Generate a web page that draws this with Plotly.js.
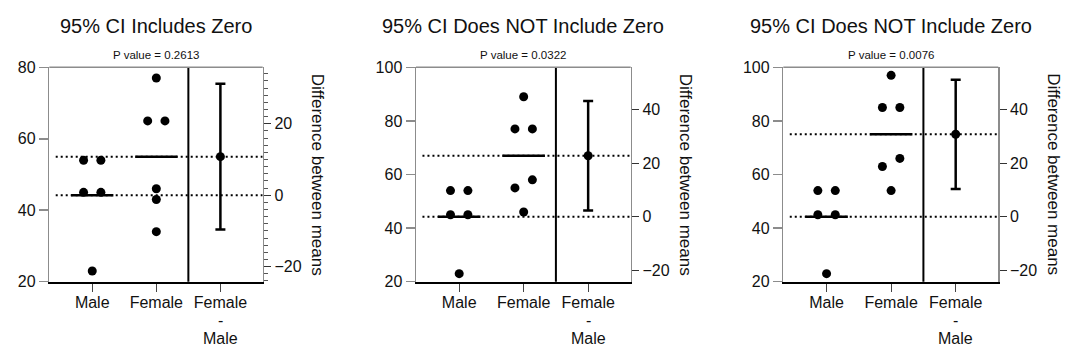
<!DOCTYPE html>
<html>
<head>
<meta charset="utf-8">
<script src="https://cdn.plot.ly/plotly-3.0.1.min.js"></script>
<style>html,body{margin:0;padding:0;background:#fff;}#chart{width:1080px;height:360px;}</style>
</head>
<body>
<div id="chart"></div>
<script>
// ---- data ----
const categories = ['Male', 'Female', 'Female<br>-<br>Male'];
const panelTitles = ['95% CI Includes Zero', '95% CI Does NOT Include Zero', '95% CI Does NOT Include Zero'];
const pValues = ['0.2613', '0.0322', '0.0076'];
const male1 = [54, 54, 45, 45, 23];
const female1 = [77, 65, 65, 46, 43, 34];
const male2 = [54, 54, 45, 45, 23];
const female2 = [89, 77, 77, 58, 55, 46];
const male3 = [54, 54, 45, 45, 23];
const female3 = [97, 85, 85, 66, 63, 54];
const ciLow = [-9.6, 2.4, 10.4];
const ciHigh = [31.2, 43.2, 51.2];
const rightAxisTitle = 'Difference between means';

// ---- layout config ----
const W = 1080, H = 360;
const leftRanges = [[20, 80], [20, 100], [20, 100]];
const frameX = [[49.3, 262.7], [416, 630.7], [783.3, 998.3]];
const frameTop = 67.3, frameBottom = 281.7;
const xRange = [-0.67, 2.66];
const labelFirstLineY = 302, labelLineGap = 18;
const panels = [[male1, female1], [male2, female2], [male3, female3]];

const mean = a => a.reduce((s, v) => s + v, 0) / a.length;

function swarm(vals, center, pxPerUnit) {
  const idx = vals.map((v, i) => i).sort((a, b) => vals[a] - vals[b]);
  const clusters = [];
  let cur = [];
  idx.forEach(i => {
    if (cur.length && (vals[i] - vals[cur[cur.length - 1]]) * pxPerUnit >= 9) {
      clusters.push(cur); cur = [];
    }
    cur.push(i);
  });
  if (cur.length) clusters.push(cur);
  const xs = new Array(vals.length);
  clusters.forEach(c => {
    c.forEach((i, k) => { xs[i] = center + (k - (c.length - 1) / 2) * 0.27; });
  });
  return xs;
}

const traces = [];
const layout = {
  width: W, height: H,
  margin: {l: 0, r: 0, t: 0, b: 0},
  paper_bgcolor: '#fff', plot_bgcolor: '#fff',
  showlegend: false,
  font: {family: 'Liberation Sans, Arial, sans-serif', color: '#111', size: 16},
  shapes: [], annotations: []
};
const yDom = [1 - frameBottom / H, 1 - frameTop / H];
const labelLines = categories.map(c => c.split('<br>'));

panels.forEach((pd, p) => {
  const [male, female] = pd;
  const xId = p === 0 ? 'x' : 'x' + (p + 1);
  const xKey = p === 0 ? 'xaxis' : 'xaxis' + (p + 1);
  const ylId = p === 0 ? 'y' : 'y' + (2 * p + 1);
  const ylKey = p === 0 ? 'yaxis' : 'yaxis' + (2 * p + 1);
  const yrId = 'y' + (2 * p + 2);
  const yrKey = 'yaxis' + (2 * p + 2);
  const lr = leftRanges[p];
  const mM = mean(male), mF = mean(female);
  const diff = mF - mM;
  const pxPerUnit = (frameBottom - frameTop) / (lr[1] - lr[0]);

  layout[xKey] = {
    domain: [frameX[p][0] / W, frameX[p][1] / W], anchor: ylId,
    range: xRange, tickvals: [0, 1, 2], ticktext: labelLines.map(l => l[0]),
    showline: true, linecolor: '#000', linewidth: 2,
    ticks: 'outside', ticklen: 8, tickcolor: '#444', tickwidth: 1,
    showgrid: false, zeroline: false, automargin: false, fixedrange: true,
    ticklabelstandoff: -3,
    tickfont: {size: 16, color: '#111'}
  };
  layout[ylKey] = {
    domain: yDom, anchor: xId, range: lr, tick0: 0, dtick: 20,
    showline: true, linecolor: '#8c8c8c', linewidth: 1.5,
    ticks: 'outside', ticklen: 9, tickcolor: '#8c8c8c', tickwidth: 1.5,
    showgrid: false, zeroline: false, automargin: false, fixedrange: true,
    tickfont: {size: 16, color: '#111'}
  };
  const yr = {
    overlaying: ylId, side: 'right', anchor: xId,
    range: [lr[0] - mM, lr[1] - mM], tick0: 0, dtick: 20,
    showline: true, linecolor: '#8c8c8c', linewidth: 1.5,
    ticks: 'outside', ticklen: 7, tickcolor: '#333', tickwidth: 1,
    showgrid: false, zeroline: false, automargin: false, fixedrange: true,
    tickfont: {size: 16, color: '#111'}
  };
  if (p === 0) yr.minor = {dtick: 2, tick0: 0, ticklen: 4, tickcolor: '#555', tickwidth: 1, ticks: 'outside', showgrid: false};
  layout[yrKey] = yr;

  // extra lines of multi-line category labels
  labelLines.forEach((lines, ci) => {
    lines.slice(1).forEach((ln, li) => layout.annotations.push({
      text: ln, xref: xId, yref: 'paper', x: ci, y: 1 - (labelFirstLineY + (li + 1) * labelLineGap) / H,
      xanchor: 'center', yanchor: 'middle', showarrow: false, font: {size: 16, color: '#111'}
    }));
  });

  // dotted reference lines at the two group means
  [mF, mM].forEach(m => traces.push({
    type: 'scatter', mode: 'lines', xaxis: xId, yaxis: ylId,
    x: [-0.57, xRange[1]], y: [m, m],
    line: {color: '#000', width: 2, dash: '2px,3px'}, hoverinfo: 'skip'
  }));
  // mean lines
  [mM, mF].forEach((m, i) => traces.push({
    type: 'scatter', mode: 'lines', xaxis: xId, yaxis: ylId,
    x: [i - 0.33, i + 0.33], y: [m, m],
    line: {color: '#000', width: 2.5}, hoverinfo: 'skip'
  }));
  // individual points
  [male, female].forEach((vals, i) => traces.push({
    type: 'scatter', mode: 'markers', xaxis: xId, yaxis: ylId,
    x: swarm(vals, i, pxPerUnit), y: vals,
    marker: {color: '#000', size: 9}, cliponaxis: false
  }));
  // difference with CI
  traces.push({
    type: 'scatter', mode: 'markers', xaxis: xId, yaxis: yrId,
    x: [2], y: [diff],
    marker: {color: '#000', size: 9},
    error_y: {type: 'data', symmetric: false, array: [ciHigh[p] - diff], arrayminus: [diff - ciLow[p]],
      color: '#000', thickness: 2.5, width: 5}
  });

  // divider and top frame line
  layout.shapes.push({type: 'line', xref: xId, yref: ylId + ' domain', x0: 1.5, x1: 1.5, y0: 0, y1: 1,
    line: {color: '#000', width: 2}});
  layout.shapes.push({type: 'line', xref: xId + ' domain', yref: ylId + ' domain', x0: 0, x1: 1, y0: 1, y1: 1,
    line: {color: '#8c8c8c', width: 1.5}});

  const cx = (frameX[p][0] + frameX[p][1]) / 2 / W;
  layout.annotations.push({text: panelTitles[p], xref: 'paper', yref: 'paper', x: cx, y: 1 - 26 / H,
    xanchor: 'center', yanchor: 'middle', showarrow: false, font: {size: 20, color: '#111'}});
  layout.annotations.push({text: 'P value = ' + pValues[p], xref: 'paper', yref: 'paper', x: cx, y: 1 - 55 / H,
    xanchor: 'center', yanchor: 'middle', showarrow: false, font: {size: 11.5, color: '#111'}});
  layout.annotations.push({text: rightAxisTitle, xref: 'paper', yref: 'paper', x: (frameX[p][1] + 55) / W,
    y: (yDom[0] + yDom[1]) / 2, xanchor: 'center', yanchor: 'middle', textangle: 90, showarrow: false,
    font: {size: 17, color: '#111'}});
});

Plotly.newPlot('chart', traces, layout, {staticPlot: true, displayModeBar: false});
</script>
</body>
</html>
